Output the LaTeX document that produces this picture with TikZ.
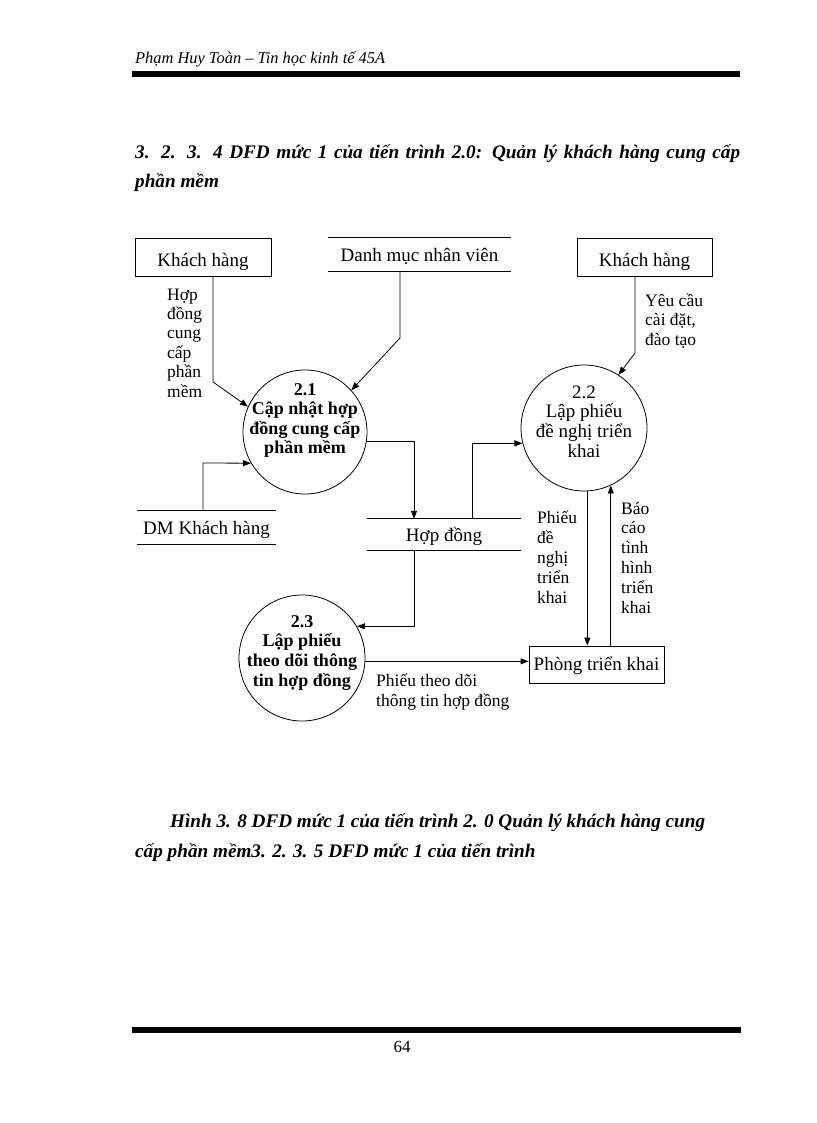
\documentclass[tikz,border=0pt]{standalone}
\usepackage{fontspec}
\setmainfont{Liberation Serif}
\usetikzlibrary{arrows.meta}
\newcommand\myfs[2]{\fontsize{#1}{#2}\selectfont}
\newcommand\cstack[2]{\vtop{\baselineskip=#1\lineskiplimit=-100pt\halign{\hfil##\hfil\cr#2\crcr}}}
\newcommand\lstack[2]{\vtop{\baselineskip=#1\lineskiplimit=-100pt\halign{##\hfil\cr#2\crcr}}}
\begin{document}
\begin{tikzpicture}[x=1pt,y=-1pt,
  flow/.style={draw, line width=0.8pt, -{Triangle[length=8pt,width=6pt]}},
  proc/.style={circle, draw, line width=0.8pt, inner sep=0pt},
  ptext/.style={anchor=base, inner sep=0pt, font=\myfs{18}{20}\bfseries},
  entity/.style={draw, line width=0.8pt, inner sep=0pt, font=\myfs{19}{22}, text height=22pt, text depth=4pt},
  store/.style={inner sep=0pt, font=\myfs{19}{22}, text height=17pt, text depth=4pt},
  storeline/.style={draw, line width=0.8pt},
  lbl/.style={inner sep=0pt, anchor=base west, font=\myfs{17.5}{20}},
  plain/.style={inner sep=0pt, anchor=base west}
]
\useasboundingbox (0,0) rectangle (816,1123);
% header
\node[plain, font=\myfs{16.4}{19}\itshape] (header) at (135,64) {Phạm Huy Toàn – Tin học kinh tế 45A};
\fill (132,71) rectangle (740,77);
% title
\node[plain, font=\myfs{19.2}{23}\bfseries\itshape] (title1) at (135,159) {\makebox[605pt][s]{3. 2. 3. 4 DFD mức 1 của tiến trình 2.0: Quản lý khách hàng cung cấp}};
\node[plain, font=\myfs{19.2}{23}\bfseries\itshape] (title2) at (135,188) {phần mềm};

% entities
\node[entity, minimum width=136pt, minimum height=38pt] (kh1) at (203,257) {Khách hàng};
\node[entity, minimum width=135pt, minimum height=38pt] (kh2) at (644.5,257) {Khách hàng};
\node[entity, minimum width=135pt, minimum height=37pt, text height=15pt] (ptk) at (596.5,664.5) {Phòng triển khai};

% stores
\node[store, minimum width=183pt, minimum height=33pt] (dmnv) at (419.5,254.5) {Danh mục nhân viên};
\node[store, minimum width=139pt, minimum height=33pt] (dmkh) at (206.5,527.5) {DM Khách hàng};
\node[store, minimum width=154pt, minimum height=31pt] (hd) at (444,534.5) {Hợp đồng};
\foreach \s in {dmnv,dmkh,hd}{
  \draw[storeline] (\s.north west) -- (\s.north east);
  \draw[storeline] (\s.south west) -- (\s.south east);
}

% processes
\node[proc, minimum size=124pt] (c21) at (305,432) {};
\node[proc, minimum size=126pt] (c22) at (584,428) {};
\node[proc, minimum size=126pt] (c23) at (302,658) {};
\node[ptext] (t21) at (305,395) {\cstack{19.5pt}{2.1\cr Cập nhật hợp\cr đồng cung cấp\cr phần mềm}};
\node[ptext, font=\myfs{19}{20}] (t22) at (584,398) {\cstack{19.7pt}{2.2\cr Lập phiếu\cr đề nghị triển\cr khai}};
\node[ptext] (t23) at (302,627) {\cstack{19.7pt}{2.3\cr Lập phiếu\cr theo dõi thông\cr tin hợp đồng}};

% flows
\coordinate (b1) at (213,382);
\path[flow] ([xshift=10pt]kh1.south) -- (b1) -- (c21.156);
\coordinate (b2) at (400,338);
\path[flow] ([xshift=-19.5pt]dmnv.south) -- (b2) -- (c21.42);
\coordinate (b3) at (203,463);
\path[flow] ([xshift=-3.5pt]dmkh.north) -- (b3) -- (c21.210);
\path[flow] (c21.-9) -| ([xshift=-30pt]hd.north);
\path[flow] ([xshift=28pt]hd.north) |- (c22.194);
\coordinate (b6) at (635,353);
\path[flow] ([xshift=-9.5pt]kh2.south) -- (b6) -- (c22.57);
\path[flow] (c22.-87) -- (c22.-87 |- ptk.north);
\path[flow] (ptk.north -| c22.-65) -- (c22.-65);
\path[flow] ([xshift=-30pt]hd.south) |- (c23.30);
\path[flow] (c23.-3) -- (c23.-3 -| ptk.west);

% flow labels
\node[lbl] (l1) at (167,300) {\lstack{19.4pt}{Hợp\cr đồng\cr cung\cr cấp\cr phần\cr mềm}};
\node[lbl] (l2) at (645,306) {\lstack{19.5pt}{Yêu cầu\cr cài đặt,\cr đào tạo}};
\node[lbl] (l3) at (537,523) {\lstack{20pt}{Phiếu\cr đề\cr nghị\cr triển\cr khai}};
\node[lbl] (l4) at (621,514) {\lstack{19.8pt}{Báo\cr cáo\cr tình\cr hình\cr triển\cr khai}};
\node[lbl] (l5) at (376,686) {\lstack{20.5pt}{Phiếu theo dõi\cr thông tin hợp đồng}};

% caption
\node[plain, font=\myfs{19.2}{23}\bfseries\itshape] (cap1) at (170,827) {\makebox[535pt][s]{Hình 3. 8 DFD mức 1 của tiến trình 2. 0 Quản lý khách hàng cung}};
\node[plain, font=\myfs{19.2}{23}\bfseries\itshape] (cap2) at (135,857) {cấp phần mềm3. 2. 3. 5 DFD mức 1 của tiến trình};

% footer
\fill (132,1027) rectangle (741,1033);
\node[anchor=base, inner sep=0pt, font=\myfs{17}{20}] (pg) at (402,1052) {64};
\end{tikzpicture}
\end{document}
